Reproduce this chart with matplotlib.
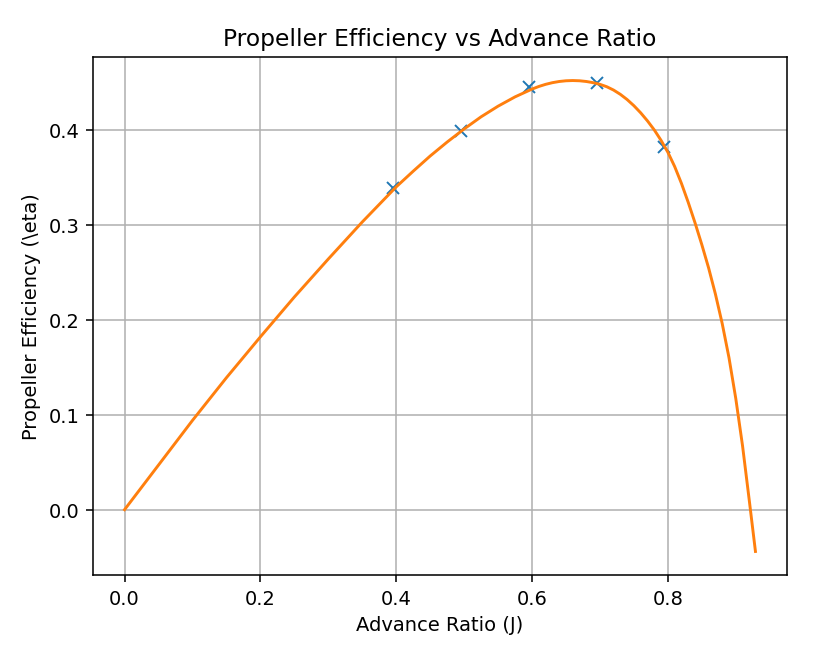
import matplotlib
matplotlib.use("Agg")
import matplotlib.pyplot as plt

# Measured data points (markers)
j_data = [0.396, 0.495, 0.595, 0.695, 0.794]
eta_data = [0.339, 0.399, 0.445, 0.449, 0.382]

# Fitted efficiency curve
j_fit = [0.00, 0.05, 0.10, 0.15, 0.20, 0.25, 0.30, 0.35, 0.40, 0.425, 0.45,
         0.475, 0.50, 0.525, 0.55, 0.575, 0.60, 0.61, 0.62, 0.63, 0.64, 0.65,
         0.66, 0.67, 0.68, 0.69, 0.70, 0.71, 0.72, 0.73, 0.74, 0.75, 0.76,
         0.77, 0.78, 0.79, 0.80, 0.81, 0.82, 0.83, 0.84, 0.85, 0.86, 0.87,
         0.88, 0.89, 0.90, 0.91, 0.92, 0.929]
eta_fit = [0.000, 0.047, 0.094, 0.139, 0.182, 0.224, 0.264, 0.303, 0.340,
           0.3565, 0.3725, 0.3872, 0.401, 0.4138, 0.425, 0.4348, 0.443,
           0.44575, 0.448, 0.44975, 0.451, 0.45175, 0.452, 0.45175, 0.451,
           0.44975, 0.448, 0.4455, 0.442, 0.4375, 0.432, 0.4255, 0.418,
           0.4095, 0.400, 0.389, 0.3765, 0.3615, 0.3437, 0.3237, 0.3022,
           0.2792, 0.2547, 0.2272, 0.1962, 0.1602, 0.1172, 0.0672, 0.0092,
           -0.044]

fig = plt.figure(figsize=(836 / 140, 647 / 140), dpi=140)
ax = fig.add_axes([93 / 836, 1 - 576 / 647, (787 - 93) / 836, (576 - 58) / 647])

ax.plot(j_data, eta_data, 'x', color='C0')
ax.plot(j_fit, eta_fit, '-', color='C1')

ax.set_title("Propeller Efficiency vs Advance Ratio")
ax.set_xlabel("Advance Ratio (J)")
ax.set_ylabel("Propeller Efficiency (\\eta)")
ax.grid(True)

fig.savefig("out.png", dpi=140)
